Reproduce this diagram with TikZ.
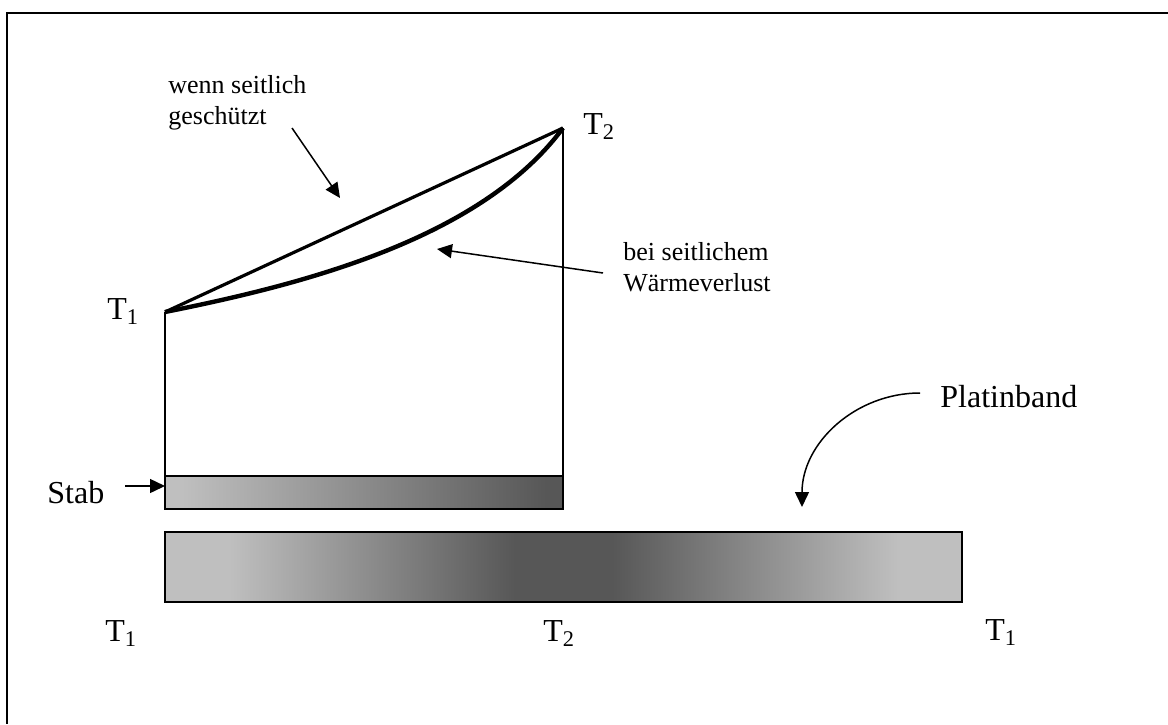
\documentclass[tikz,border=0pt]{standalone}
\usepackage{fontspec}
\setmainfont{Liberation Serif}
\usetikzlibrary{arrows.meta}
\definecolor{barlight}{gray}{0.75}
\definecolor{bardark}{gray}{0.34}
\pgfdeclarehorizontalshading{rod}{100bp}{color(0bp)=(barlight); color(27bp)=(barlight);
  color(73bp)=(bardark); color(100bp)=(bardark)}
\pgfdeclarehorizontalshading{platin}{100bp}{color(0bp)=(barlight); color(29bp)=(barlight);
  color(47bp)=(bardark); color(53bp)=(bardark); color(71bp)=(barlight); color(100bp)=(barlight)}

\begin{document}
\begin{tikzpicture}[x=0.5pt,y=-0.5pt,>={Triangle[length=7.5pt,width=7pt]},
  big/.style={font=\fontsize{16}{19}\selectfont,inner sep=0pt,anchor=base west},
  small/.style={font=\fontsize{13}{15.5}\selectfont,inner sep=0pt,align=left,anchor=north west},
  pointer/.style={->,line width=0.75pt}]
\useasboundingbox (0,0) rectangle (1168,724);
\draw[line width=1pt] (1168,13) -- (7,13) -- (7,724);
% temperature profile over the rod
\coordinate (p1) at (165,312);
\coordinate (p2) at (563,128);
\coordinate (r1) at (165,476);
\coordinate (r2) at (563,476);
\draw[line width=1pt] (r1) -- (p1) (r2) -- (p2);
\draw[line width=1.6pt] (p1) -- (p2);
\draw[line width=2.2pt] (p1) .. controls (300,285) and (480,240) .. (p2);
% rod and platinum strip
\shade[shading=rod,draw,line width=1pt] (165,476) rectangle (563,509);
\shade[shading=platin,draw,line width=1pt] (165,532) rectangle (962,602);
% labels
\node[big] (t1a) at (107,319) {T\textsubscript{1}};
\node[big] (t2a) at (583,134) {T\textsubscript{2}};
\node[big] (t1b) at (105,641) {T\textsubscript{1}};
\node[big] (t2b) at (543,641) {T\textsubscript{2}};
\node[big] (t1c) at (985,640) {T\textsubscript{1}};
\node[big] (stab) at (47,503) {Stab};
\node[big] (platin) at (940,407) {Platinband};
\node[small] (schutz) at (168,75) {wenn seitlich\\geschützt};
\node[small] (verlust) at (623,242) {bei seitlichem\\Wärmeverlust};
% pointers
\coordinate (s0) at (292,128);
\coordinate (s1) at (340,198);
\coordinate (v0) at (603,273);
\coordinate (v1) at (437,249);
\coordinate (b0) at (125,486);
\coordinate (b1) at (165,486);
\coordinate (pb0) at (920,393);
\coordinate (pb1) at (802,507);
\draw[pointer] (s0) -- (s1);
\draw[pointer] (v0) -- (v1);
\draw[pointer] (b0) -- (b1);
\draw[pointer] (pb0) to[out=180,in=90] (pb1);
\end{tikzpicture}
\end{document}
